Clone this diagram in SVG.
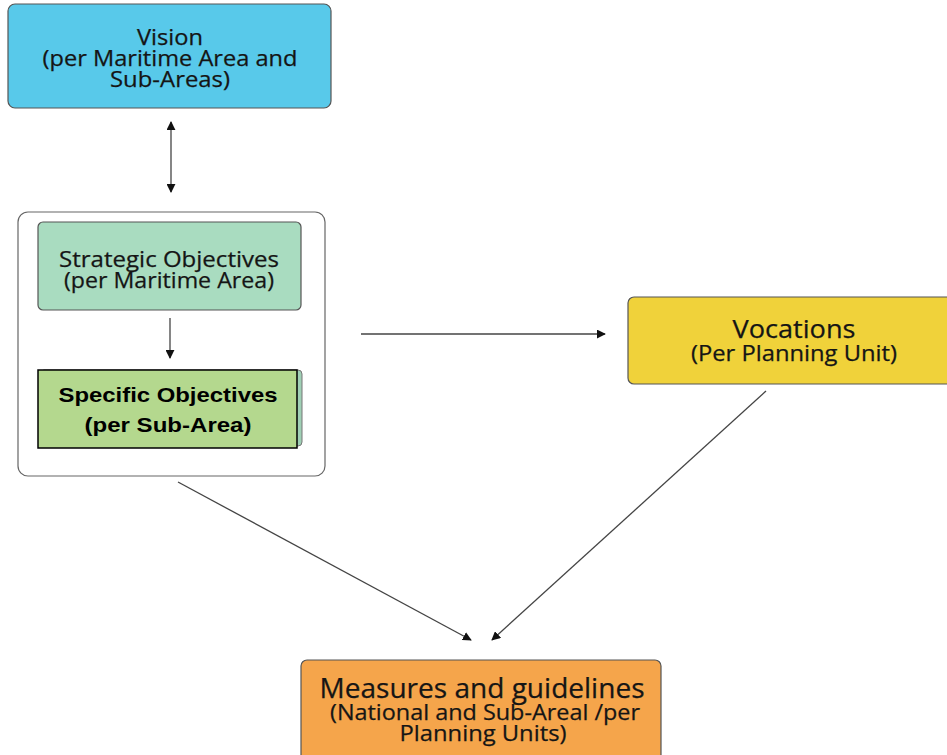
<svg xmlns="http://www.w3.org/2000/svg" width="947" height="755" viewBox="0 0 947 755">
<style>
.box{stroke:#555;stroke-width:1.2}
.t{font-family:"Open Sans","Noto Sans",sans-serif;fill:#151515;text-anchor:middle;stroke:#151515;stroke-width:0.25}
.b{font-family:"Liberation Sans",Arial,sans-serif;font-weight:bold;fill:#000;text-anchor:middle}
.c{stroke:#444;stroke-width:1.3;fill:none}
</style>
<defs>
<marker id="ah" viewBox="0 0 10 10" refX="9" refY="5" markerWidth="9" markerHeight="9" markerUnits="userSpaceOnUse" orient="auto-start-reverse">
<path d="M0,0 L10,5 L0,10 z" fill="#111"/>
</marker>
</defs>
<rect width="947" height="755" fill="#fff"/>
<g id="vision">
<rect class="box" x="8" y="4" width="323" height="104" rx="7" fill="#58c9ea"/>
<text class="t" font-size="22" x="170" y="45" textLength="66" lengthAdjust="spacingAndGlyphs">Vision</text>
<text class="t" font-size="22" x="170" y="66" textLength="255" lengthAdjust="spacingAndGlyphs">(per Maritime Area and</text>
<text class="t" font-size="22" x="170" y="87" textLength="120" lengthAdjust="spacingAndGlyphs">Sub-Areas)</text>
</g>
<g id="container">
<rect x="18" y="212" width="307" height="264" rx="10" fill="#fff" stroke="#666" stroke-width="1.2"/>
</g>
<g id="strategic">
<rect class="box" x="38" y="222" width="263" height="88" rx="5" fill="#a9dcc0"/>
<text class="t" font-size="22" x="169" y="267" textLength="220" lengthAdjust="spacingAndGlyphs">Strategic Objectives</text>
<text class="t" font-size="22" x="169" y="288" textLength="210" lengthAdjust="spacingAndGlyphs">(per Maritime Area)</text>
</g>
<g id="specific">
<rect x="40" y="370" width="262" height="76" rx="4" fill="#9fd0b5" stroke="#777" stroke-width="1"/>
<rect x="38" y="370" width="259" height="78" fill="#b4d88e" stroke="#000" stroke-width="1.5"/>
<text class="b" font-size="21" x="168" y="402" textLength="219" lengthAdjust="spacingAndGlyphs">Specific Objectives</text>
<text class="b" font-size="21" x="168" y="432" textLength="167" lengthAdjust="spacingAndGlyphs">(per Sub-Area)</text>
</g>
<g id="vocations">
<rect class="box" x="628" y="297" width="330" height="87" rx="6" fill="#f0d23a"/>
<text class="t" font-size="26" x="794" y="338" textLength="123" lengthAdjust="spacingAndGlyphs">Vocations</text>
<text class="t" font-size="21" x="794" y="361" textLength="206" lengthAdjust="spacingAndGlyphs">(Per Planning Unit)</text>
</g>
<g id="measures">
<rect class="box" x="301" y="660" width="360" height="105" rx="6" fill="#f5a54b"/>
<text class="t" font-size="28" x="482" y="698" textLength="325" lengthAdjust="spacingAndGlyphs">Measures and guidelines</text>
<text class="t" font-size="22" x="485" y="720" textLength="310" lengthAdjust="spacingAndGlyphs">(National and Sub-Areal /per</text>
<text class="t" font-size="22" x="483" y="741" textLength="167" lengthAdjust="spacingAndGlyphs">Planning Units)</text>
</g>
<g id="connectors">
<line class="c" x1="171" y1="122" x2="171" y2="192" marker-start="url(#ah)" marker-end="url(#ah)"/>
<line class="c" x1="170" y1="318" x2="170" y2="358" marker-end="url(#ah)"/>
<line class="c" x1="361" y1="334" x2="605" y2="334" marker-end="url(#ah)"/>
<line class="c" x1="178" y1="482" x2="471" y2="640" marker-end="url(#ah)"/>
<line class="c" x1="766" y1="391" x2="492" y2="640" marker-end="url(#ah)"/>
</g>
</svg>
